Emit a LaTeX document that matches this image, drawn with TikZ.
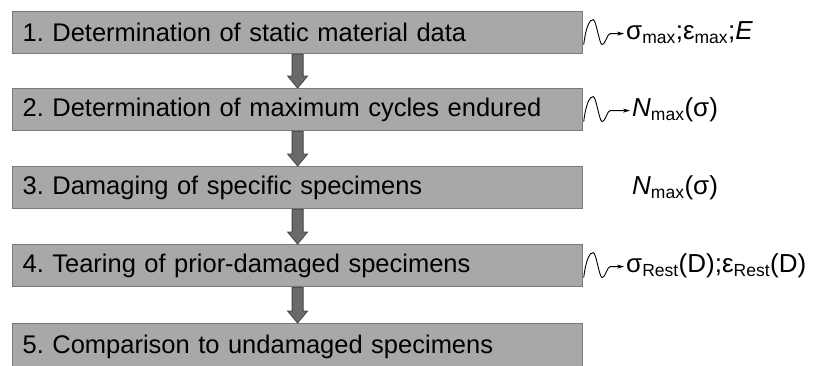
\documentclass[tikz,border=0pt]{standalone}
\usepackage{fontspec}
\setmainfont{Liberation Sans}
\frenchspacing
\usetikzlibrary{arrows.meta,calc}
\definecolor{boxfill}{HTML}{A8A8A8}
\definecolor{boxline}{HTML}{7A7A7A}
\definecolor{arrfill}{HTML}{6A6A6A}
\definecolor{arrline}{HTML}{444444}
\tikzset{
  stepbox/.style={draw=boxline, line width=1.2pt, fill=boxfill, minimum height=42pt,
    inner xsep=10pt, inner ysep=0pt, anchor=north west, text width=550pt, align=left, font=\fontsize{25.5}{28}\selectfont},
  flowarrow/.style={draw=arrline, line width=0.8pt, fill=arrfill},
  result/.style={anchor=west, inner sep=0pt, font=\fontsize{26}{28}\selectfont},
  squig/.style={line width=0.9pt, -{Stealth[length=7pt,width=4pt]}, shorten >=2pt}
}
\newcommand{\sbs}[1]{\textsubscript{\fontsize{17.5}{17.5}\selectfont #1}}
\begin{document}
\begin{tikzpicture}[x=1pt,y=-1pt]
\useasboundingbox (0,0) rectangle (813,365);
\clip (0,0) rectangle (813,365);
\node[stepbox] (b1) at (12,11)  {1. Determination of static material data};
\node[stepbox] (b2) at (12,88)  {2. Determination of maximum cycles endured};
\node[stepbox] (b3) at (12,166) {3. Damaging of specific specimens};
\node[stepbox] (b4) at (12,244) {4. Tearing of prior-damaged specimens};
\node[stepbox, minimum height=46pt] (b5) at (12,323) {5. Comparison to undamaged specimens};
% block arrows
\foreach \a/\b in {b1/b2,b2/b3,b3/b4,b4/b5}{
  \path (\a.south) coordinate (s) (\b.north) coordinate (t);
  \draw[flowarrow] ($(s)+(-5.5,0)$) -- ($(t)+(-5.5,-12)$) -- ($(t)+(-10,-12)$) -- (t) -- ($(t)+(10,-12)$) -- ($(t)+(5.5,-12)$) -- ($(s)+(5.5,0)$) -- cycle;
}
% results
\node[result] (r1) at (626,33) {σ\sbs{max};ε\sbs{max};\textit{E}};
\node[result] (r2) at (632,110) {\textit{N}\sbs{max}(σ)};
\node[result] (r3) at (632,188) {\textit{N}\sbs{max}(σ)};
\node[result] (r4) at (626,266) {σ\sbs{Rest}(D);ε\sbs{Rest}(D)};
% squiggles
\foreach \b/\r in {b1/r1,b2/r2,b4/r4}{
  \coordinate (o) at (\b.east);
  \draw[squig] ($(o)+(0.5,12)$) .. controls ($(o)+(3,-8)$) and ($(o)+(7,-13)$) .. ($(o)+(10,-13)$)
     .. controls ($(o)+(13,-13)$) and ($(o)+(16,12)$) .. ($(o)+(19,12)$)
     .. controls ($(o)+(22,12)$) and ($(o)+(24,1)$) .. ($(o)+(27,1)$) -- (\r.west |- {$(o)+(0,1)$});
}
\end{tikzpicture}
\end{document}
